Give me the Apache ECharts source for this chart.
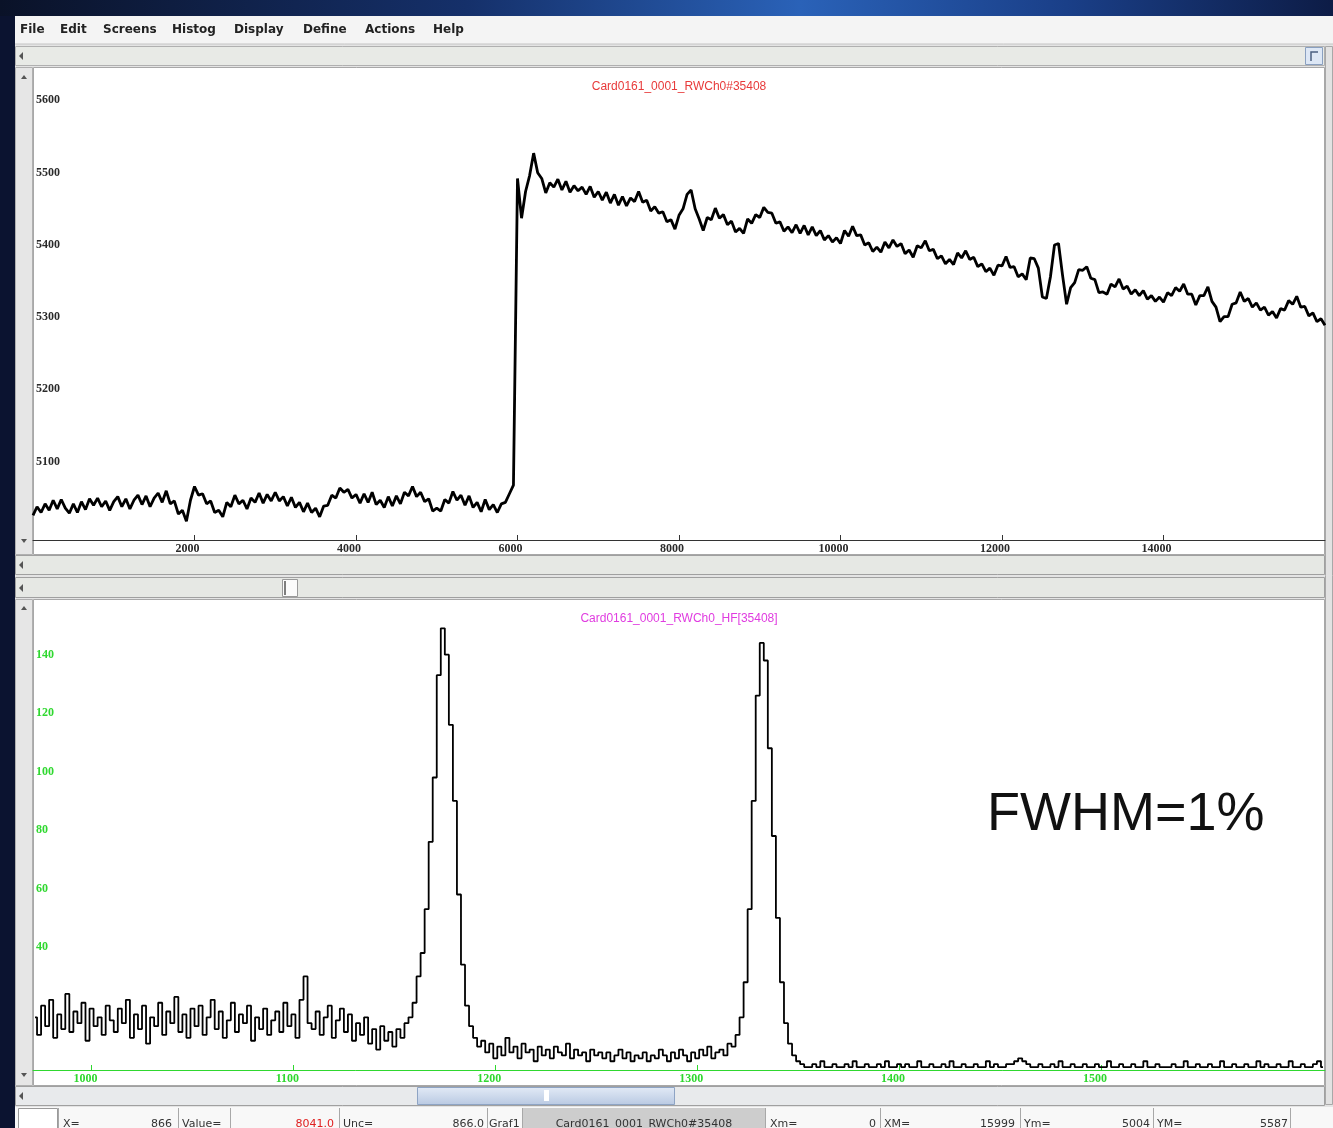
<!DOCTYPE html>
<html>
<head>
<meta charset="utf-8">
<title>Card0161 waveform and spectrum</title>
<script src="https://cdn.jsdelivr.net/npm/echarts@6/dist/echarts.min.js"></script>
<style>
  html, body { margin: 0; padding: 0; background: #0b1330; }
  #main { width: 1333px; height: 1128px; }
</style>
</head>
<body>
<div id="main"></div>
<script>
// ---- Upper panel: digitised preamp waveform (sample index vs ADC value) ----
const waveTitle = 'Card0161_0001_RWCh0#35408';
const waveStart = 0;
const waveStep = 50;
const waveCounts = [
  // 0 - 1000
  5034, 5046, 5038, 5050, 5041, 5055, 5043, 5056, 5044, 5037, 5050, 5038, 5053, 5042, 5057, 5048, 5058, 5046, 5054, 5041, 5053,
  // 1050 - 2000
  5060, 5046, 5057, 5043, 5055, 5062, 5049, 5061, 5046, 5058, 5065, 5052, 5068, 5050, 5054, 5036, 5041, 5026, 5055, 5074,
  // 2050 - 3000
  5062, 5064, 5050, 5054, 5038, 5041, 5032, 5052, 5046, 5062, 5050, 5055, 5043, 5058, 5052, 5065, 5051, 5063, 5054, 5066,
  // 3050 - 4000
  5054, 5060, 5047, 5059, 5045, 5052, 5039, 5051, 5038, 5044, 5032, 5047, 5048, 5062, 5058, 5072, 5066, 5070, 5058, 5063,
  // 4050 - 5000
  5051, 5064, 5052, 5066, 5049, 5055, 5045, 5060, 5047, 5061, 5050, 5066, 5061, 5074, 5060, 5066, 5053, 5057, 5040, 5044,
  // 5050 - 5900
  5040, 5056, 5051, 5067, 5055, 5062, 5048, 5061, 5045, 5052, 5039, 5056, 5042, 5049, 5038, 5050, 5052, 5064,
  // 5950, 6000 (signal step)
  5076, 5500,
  // 6050 - 7000
  5445, 5482, 5504, 5535, 5508, 5500, 5480, 5494, 5488, 5499, 5484, 5496, 5481, 5490, 5483, 5488, 5478, 5489, 5474, 5482,
  // 7050 - 8000
  5470, 5481, 5466, 5478, 5463, 5475, 5462, 5473, 5468, 5482, 5467, 5470, 5455, 5461, 5452, 5454, 5440, 5443, 5430, 5449,
  // 8050 - 9000
  5458, 5478, 5484, 5458, 5444, 5428, 5446, 5443, 5459, 5445, 5450, 5436, 5441, 5426, 5431, 5424, 5444, 5438, 5450, 5446,
  // 9050 - 10000
  5460, 5453, 5452, 5438, 5440, 5427, 5433, 5425, 5436, 5424, 5435, 5422, 5433, 5421, 5428, 5415, 5421, 5412, 5418, 5410,
  // 10050 - 11000
  5428, 5420, 5434, 5421, 5422, 5408, 5411, 5399, 5405, 5398, 5412, 5404, 5415, 5406, 5410, 5396, 5401, 5391, 5407, 5404,
  // 11050 - 12000
  5414, 5400, 5402, 5389, 5393, 5382, 5388, 5381, 5397, 5390, 5400, 5388, 5391, 5378, 5382, 5371, 5376, 5366, 5380, 5379,
  // 12050 - 13000
  5392, 5377, 5378, 5364, 5368, 5360, 5390, 5389, 5376, 5336, 5334, 5364, 5408, 5410, 5366, 5326, 5349, 5356, 5374, 5373,
  // 13050 - 14000
  5378, 5362, 5360, 5342, 5343, 5340, 5354, 5350, 5361, 5347, 5351, 5340, 5346, 5338, 5345, 5333, 5338, 5330, 5336, 5329,
  // 14050 - 15000
  5342, 5338, 5349, 5344, 5354, 5340, 5340, 5325, 5338, 5338, 5350, 5330, 5322, 5302, 5309, 5309, 5326, 5328, 5343, 5330,
  // 15050 - 16000
  5334, 5322, 5328, 5318, 5322, 5311, 5316, 5307, 5320, 5318, 5331, 5326, 5337, 5322, 5323, 5310, 5314, 5302, 5306, 5297
];
const waveXTicks = [2000, 4000, 6000, 8000, 10000, 12000, 14000];
const waveYTicks = [5100, 5200, 5300, 5400, 5500, 5600];

// ---- Lower panel: pulse-height spectrum (channel vs counts) ----
const specTitle = 'Card0161_0001_RWCh0_HF[35408]';
const specStart = 972;
const specStep = 2;
const specCounts = [
  // 972 - 1010
  18, 12, 22, 15, 24, 11, 19, 14, 26, 13, 20, 16, 23, 10, 21, 15, 18, 12, 22, 17,
  // 1012 - 1050
  13, 21, 16, 24, 11, 19, 14, 22, 9, 18, 15, 23, 12, 20, 16, 25, 13, 19, 11, 21,
  // 1052 - 1090
  15, 22, 12, 18, 24, 14, 20, 11, 17, 23, 13, 19, 16, 22, 10, 18, 14, 21, 12, 17,
  // 1092 - 1130
  20, 13, 23, 15, 19, 11, 24, 32, 16, 14, 20, 12, 18, 22, 11, 17, 21, 13, 19, 10,
  // 1132 - 1156
  16, 12, 18, 9, 14, 7, 15, 10, 13, 8, 14, 11, 16,
  // 1158 - 1192 (first line)
  18, 23, 32, 40, 55, 78, 100, 135, 151, 142, 118, 92, 60, 36, 22, 15, 11, 8,
  // 1194 - 1320
  10, 6, 9, 4, 8, 5, 11, 6, 8, 4, 9, 6, 7, 3, 8, 5, 7, 4, 8, 6, 5, 9, 4, 7, 5, 6, 3, 7, 5, 6, 4, 6,
  3, 5, 7, 4, 6, 3, 5, 4, 6, 3, 5, 4, 7, 5, 3, 6, 4, 7, 5, 3, 6, 4, 7, 5, 8, 4, 6, 7, 5, 9, 8, 12,
  // 1322 - 1350 (second line)
  18, 30, 55, 92, 128, 146, 140, 110, 80, 52, 30, 16, 9, 5, 3,
  // 1352 - 1610
  2, 1, 1, 2, 1, 3, 1, 1, 2, 1, 1, 2, 1, 3, 1, 1, 2, 1, 1, 2,
  1, 3, 1, 1, 2, 1, 2, 1, 1, 3, 1, 1, 2, 1, 1, 2, 1, 3, 1, 1,
  2, 1, 1, 2, 1, 1, 3, 1, 2, 1, 1, 2, 2, 3, 4, 3, 2, 1, 1, 2,
  1, 1, 2, 1, 3, 1, 1, 2, 1, 1, 2, 1, 1, 2, 1, 1, 3, 1, 1, 2,
  1, 1, 2, 1, 1, 3, 1, 1, 2, 1, 1, 1, 2, 1, 1, 3, 1, 1, 2, 1,
  1, 2, 1, 1, 3, 1, 1, 2, 1, 1, 2, 1, 1, 3, 1, 2, 1, 1, 2, 1,
  1, 3, 1, 1, 2, 1, 1, 2, 3, 1
];
const specXTicks = [1000, 1100, 1200, 1300, 1400, 1500];
const specYTicks = [40, 60, 80, 100, 120, 140];

const resolutionNote = 'FWHM=1%';

// ---- Application chrome ----
const menuItems = ['File', 'Edit', 'Screens', 'Histog', 'Display', 'Define', 'Actions', 'Help'];
const statusFields = [
  { text: 'X=', x: 63, align: 'left' },
  { text: '866', x: 172, align: 'right' },
  { text: 'Value=', x: 182, align: 'left' },
  { text: '8041.0', x: 334, align: 'right', color: '#e02020' },
  { text: 'Unc=', x: 343, align: 'left' },
  { text: '866.0', x: 484, align: 'right' },
  { text: 'Graf1', x: 489, align: 'left' },
  { text: 'Card0161_0001_RWCh0#35408', x: 644, align: 'center' },
  { text: 'Xm=', x: 770, align: 'left' },
  { text: '0', x: 876, align: 'right' },
  { text: 'XM=', x: 884, align: 'left' },
  { text: '15999', x: 1015, align: 'right' },
  { text: 'Ym=', x: 1024, align: 'left' },
  { text: '5004', x: 1150, align: 'right' },
  { text: 'YM=', x: 1157, align: 'left' },
  { text: '5587', x: 1288, align: 'right' }
];

const waveData = waveCounts.map((v, i) => [waveStart + i * waveStep, v]);
const specData = specCounts.map((v, i) => [specStart + i * specStep, v]);

const GREEN = '#2fd82f';
const axisFont = { fontFamily: 'Liberation Serif', fontWeight: 'bold', fontSize: 12 };
const plainNumber = v => String(v);

// chrome helpers
function rect(x, y, w, h, fill, stroke, z) {
  return { type: 'rect', z: z === undefined ? -10 : z, silent: true,
    shape: { x: x, y: y, width: w, height: h },
    style: { fill: fill, stroke: stroke || null, lineWidth: 1 } };
}
function tri(points, z) {
  return { type: 'polygon', z: z === undefined ? -5 : z, silent: true,
    shape: { points: points }, style: { fill: '#555' } };
}
function leftArrow(cx, cy) { return tri([[cx + 2, cy - 4], [cx - 2, cy], [cx + 2, cy + 4]]); }
function upArrow(cx, cy) { return tri([[cx - 3, cy + 2], [cx, cy - 2], [cx + 3, cy + 2]]); }
function downArrow(cx, cy) { return tri([[cx - 3, cy - 2], [cx, cy + 2], [cx + 3, cy - 2]]); }
function label(text, x, y, font, fill, align, z) {
  return { type: 'text', z: z === undefined ? 5 : z, silent: true, x: x, y: y,
    style: { text: text, font: font, fill: fill, align: align || 'left', verticalAlign: 'middle' } };
}

const chrome = [];
// desktop strip above the window
chrome.push({ type: 'rect', z: -20, silent: true, shape: { x: 0, y: 0, width: 1333, height: 16 },
  style: { fill: { type: 'linear', x: 0, y: 0, x2: 1, y2: 0, colorStops: [
    { offset: 0, color: '#0a1228' }, { offset: 0.35, color: '#15306a' },
    { offset: 0.6, color: '#2a62b8' }, { offset: 0.8, color: '#1a3f88' }, { offset: 1, color: '#0d1c46' } ] } } });
// window body
chrome.push(rect(15, 16, 1318, 1112, '#e4e4e4', null, -19));
// menu bar
chrome.push(rect(15, 16, 1318, 28, '#f4f4f4', null, -18));
chrome.push({ type: 'line', z: -17, silent: true, shape: { x1: 15, y1: 44, x2: 1333, y2: 44 }, style: { stroke: '#c4c4c4' } });
const menuX = [20, 60, 103, 172, 234, 303, 365, 433];
menuItems.forEach((m, i) => chrome.push(label(m, menuX[i], 30, 'bold 12px "DejaVu Sans"', '#222')));

// top horizontal scroller
chrome.push(rect(15.5, 46.5, 1309, 19, '#e8eae6', '#b0b0b0'));
chrome.push(leftArrow(21, 56));
chrome.push(rect(1305.5, 47.5, 17, 17, '#dde7f5', '#8aa0c0', -9));
chrome.push({ type: 'polyline', z: -8, silent: true, shape: { points: [[1311, 61], [1311, 52], [1318, 52]] }, style: { stroke: '#4a5f80', lineWidth: 1.5 } });

// right-hand strip
chrome.push(rect(1325.5, 46.5, 7, 1058, '#e2e2e2', '#a8a8a8'));

// upper plot panel
chrome.push(rect(15.5, 67.5, 17, 487, '#e6e6e6', '#b0b0b0'));
chrome.push(upArrow(24, 77));
chrome.push(downArrow(24, 541));
chrome.push(rect(33.5, 67.5, 1291, 487, '#ffffff', '#a8a8a8'));

// scrollers between panels
chrome.push(rect(15.5, 555.5, 1309, 19, '#e6e8e4', '#a0a0a0'));
chrome.push(leftArrow(21, 565));
chrome.push(rect(15.5, 577.5, 1309, 20, '#e6e8e4', '#a0a0a0'));
chrome.push(leftArrow(21, 588));
chrome.push(rect(282.5, 579.5, 15, 17, '#fbfbfb', '#9a9a9a', -8));
chrome.push({ type: 'line', z: -7, silent: true, shape: { x1: 285, y1: 581, x2: 285, y2: 595 }, style: { stroke: '#555', lineWidth: 1.5 } });

// lower plot panel
chrome.push(rect(15.5, 599.5, 17, 486, '#e6e6e6', '#b0b0b0'));
chrome.push(upArrow(24, 608));
chrome.push(downArrow(24, 1075));
chrome.push(rect(33.5, 599.5, 1291, 486, '#ffffff', '#a8a8a8'));

// bottom scroller with thumb
chrome.push(rect(15.5, 1086.5, 1309, 19, '#e8eaec', '#a0a0a0'));
chrome.push(leftArrow(21, 1096));
chrome.push({ type: 'rect', z: -8, silent: true, shape: { x: 417.5, y: 1087.5, width: 257, height: 17 },
  style: { stroke: '#8ea4c4', fill: { type: 'linear', x: 0, y: 0, x2: 0, y2: 1, colorStops: [
    { offset: 0, color: '#e2eaf6' }, { offset: 1, color: '#b9c9e2' } ] } } });
chrome.push(rect(544, 1090, 5, 11, '#ffffff', null, -7));

// status bar
chrome.push(rect(15, 1107, 1318, 21, '#f8f8f8', null, -9));
chrome.push(rect(18.5, 1108.5, 39, 20, '#ffffff', '#9a9a9a', -8));
chrome.push(rect(522, 1108, 243, 20, '#cdcdcd', null, -8));
[58, 178, 230, 339, 487, 522, 765, 880, 1020, 1153, 1290].forEach(x => {
  chrome.push({ type: 'line', z: -7, silent: true, shape: { x1: x + 0.5, y1: 1108, x2: x + 0.5, y2: 1128 }, style: { stroke: '#a8a8a8' } });
});
statusFields.forEach(f => chrome.push(label(f.text, f.x, 1124, '11px "DejaVu Sans"', f.color || '#333', f.align)));

// panel titles
chrome.push(label(waveTitle, 679, 87, '12px "Liberation Sans"', '#e83a3a', 'center'));
chrome.push(label(specTitle, 679, 619, '12px "Liberation Sans"', '#e03ce0', 'center'));

// resolution annotation
chrome.push({ type: 'text', z: 50, silent: true, x: 987, y: 815,
  style: { text: resolutionNote, font: '54px "Liberation Sans"', fill: '#111', align: 'left', verticalAlign: 'middle' } });

const chart = echarts.init(document.getElementById('main'), null, { renderer: 'canvas' });
chart.setOption({
  animation: false,
  backgroundColor: '#0b1330',
  graphic: { elements: chrome },
  grid: [
    { left: 33, right: 8, top: 70, height: 470, containLabel: false },
    { left: 33, right: 8, top: 602, height: 468, containLabel: false }
  ],
  xAxis: [
    {
      gridIndex: 0, type: 'value', min: 0, max: 16000,
      axisLine: { show: true, lineStyle: { color: '#333', width: 1 } },
      axisTick: { show: true, inside: true, length: 5, lineStyle: { color: '#333' }, customValues: waveXTicks },
      axisLabel: Object.assign({ color: '#2a2a2a', margin: 3, padding: [0, 14, 0, 0], formatter: plainNumber, customValues: waveXTicks }, axisFont),
      splitLine: { show: false }
    },
    {
      gridIndex: 1, type: 'value', min: 971, max: 1611,
      axisLine: { show: true, lineStyle: { color: GREEN, width: 1 } },
      axisTick: { show: true, inside: true, length: 5, lineStyle: { color: GREEN }, customValues: specXTicks },
      axisLabel: Object.assign({ color: GREEN, margin: 3, padding: [0, 12, 0, 0], formatter: plainNumber, customValues: specXTicks }, axisFont),
      splitLine: { show: false }
    }
  ],
  yAxis: [
    {
      gridIndex: 0, type: 'value', min: 5000, max: 5650,
      axisLine: { show: false },
      axisTick: { show: false },
      axisLabel: Object.assign({ color: '#2a2a2a', inside: true, margin: 3, verticalAlign: 'bottom', formatter: plainNumber, customValues: waveYTicks }, axisFont),
      splitLine: { show: false }
    },
    {
      gridIndex: 1, type: 'value', min: 0, max: 160,
      axisLine: { show: false },
      axisTick: { show: false },
      axisLabel: Object.assign({ color: GREEN, inside: true, margin: 3, verticalAlign: 'bottom', formatter: plainNumber, customValues: specYTicks }, axisFont),
      splitLine: { show: false }
    }
  ],
  series: [
    {
      name: waveTitle, type: 'line', xAxisIndex: 0, yAxisIndex: 0,
      data: waveData, showSymbol: false, z: 10,
      lineStyle: { color: '#000', width: 2.8 }
    },
    {
      name: specTitle, type: 'line', xAxisIndex: 1, yAxisIndex: 1,
      data: specData, showSymbol: false, step: 'middle', z: 10,
      lineStyle: { color: '#000', width: 1.8 }
    }
  ]
});
</script>
</body>
</html>
